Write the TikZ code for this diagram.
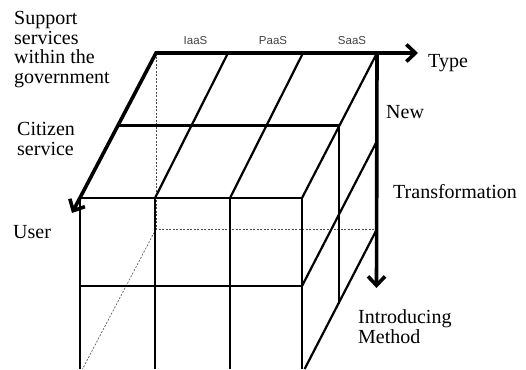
\documentclass[tikz,border=0pt]{standalone}
\usepackage{fontspec}
\setmainfont{Liberation Serif}
\newfontfamily\lsans{Liberation Sans}
\usetikzlibrary{arrows.meta}
\begin{document}
\begin{tikzpicture}[x=1pt,y=-1pt,
 axisline/.style={line width=3.6pt, line join=miter},
 tipped/.style={-{Straight Barb[length=9pt,width=17pt]}},
 gridline/.style={line width=2.2pt},
 thingrid/.style={line width=1.6pt},
 hidden/.style={line width=0.6pt, dash pattern=on 2pt off 1.5pt, black!70},
 lbl/.style={font=\fontsize{20}{19.5}\selectfont, inner sep=0pt, anchor=base west, align=left},
 col/.style={font=\lsans\fontsize{11.5}{12}\selectfont, inner sep=0pt, anchor=base, text=black!75}]
\useasboundingbox (0,0) rectangle (526,369);
% corners
\coordinate (B0) at (156,53);
\coordinate (B1) at (228,53);
\coordinate (B2) at (303,53);
\coordinate (B3) at (377,53);
\coordinate (M0) at (118,125.5);
\coordinate (M3) at (339,125.5);
\coordinate (F0) at (80,198);
\coordinate (F1) at (155,198);
\coordinate (F2) at (230,198);
\coordinate (F3) at (302,198);
\coordinate (H) at (156,229);
\coordinate (UserTip) at (72,213);
\coordinate (TypeTip) at (418,53);
\coordinate (MethTip) at (376.5,288);
% hidden lines
\draw[hidden] (B0) -- (H) -- (377,229);
\draw[hidden] (H) -- (82.5,369);
% top face
\draw[gridline] (M0) -- (M3);
\draw[gridline] (B1) -- (F1);
\draw[gridline] (B2) -- (F2);
\draw[gridline] (B3) -- (F3);
\draw[gridline] (F0) -- (F3);
% front face
\draw[gridline] (F0) -- (80,369);
\draw[gridline] (F1) -- (155,369);
\draw[gridline] (F2) -- (230,369);
\draw[gridline] (F3) -- (302,369);
\draw[gridline] (80,286) -- (302,286);
% right face
\draw[thingrid] (M3) -- (339,304);
\draw[gridline] (377,141) -- (302,286);
\draw[gridline] (377,229) -- (304.6,369);
% axes
\draw[axisline, {Straight Barb[length=9pt,width=17pt]}-{Straight Barb[length=9pt,width=17pt]}] (UserTip) -- (B0) -- (TypeTip);
\draw[axisline, tipped] (B3) -- (MethTip);
% labels
\node[lbl] (sup) at (14,83) {Support\\services\\within the\\government};
\node[lbl] (cit) at (17,155) {Citizen\\service};
\node[lbl] (usr) at (13,238) {User};
\node[lbl] (typ) at (428,67) {Type};
\node[lbl] (new) at (386,118) {New};
\node[lbl] (trf) at (393,198) {Transformation};
\node[lbl] (intr) at (358,343) {Introducing\\Method};
\node[col] (iaas) at (195.5,45) {IaaS};
\node[col] (paas) at (273,45) {PaaS};
\node[col] (saas) at (352,45) {SaaS};
\end{tikzpicture}
\end{document}
